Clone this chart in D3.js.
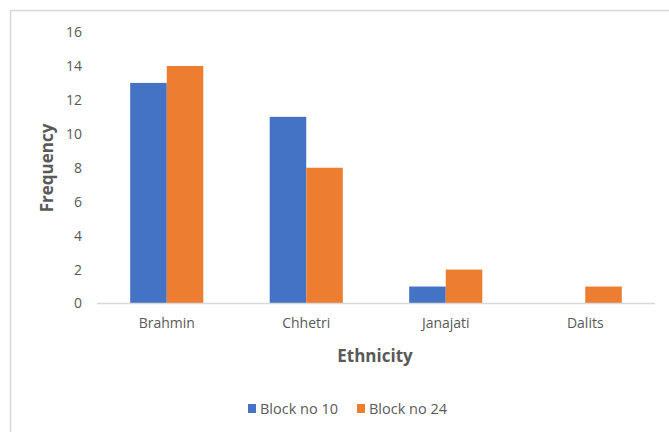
<!DOCTYPE html>
<html><head><meta charset="utf-8">
<script src="https://cdn.jsdelivr.net/npm/d3@7"></script>
<style>body{margin:0;background:#fff}svg{display:block}text{font-family:"Open Sans","Liberation Sans",sans-serif}</style>
</head><body><svg id="c" width="669" height="432"></svg>
<script>
const categories = ["Brahmin","Chhetri","Janajati","Dalits"];
const seriesNames = ["Block no 10","Block no 24"];
const block10 = [13, 11, 1, 0];
const block24 = [14, 8, 2, 1];
const yTicks = [0,2,4,6,8,10,12,14,16];
const colors = ["#4472C4","#ED7D31"];

const svg = d3.select("#c");
svg.append("rect").attr("x",10.5).attr("y",10.5).attr("width",700).attr("height",500)
  .attr("fill","#fff").attr("stroke","#d9d9d9").attr("stroke-width",1.5);

const m = {left:97, right:655, top:32, bottom:303.5};
const x = d3.scaleBand().domain(categories).range([m.left,m.right]).paddingInner(0.476).paddingOuter(0.238);
const xs = d3.scaleBand().domain(seriesNames).range([0,x.bandwidth()]);
const y = d3.scaleLinear().domain([0,16]).range([m.bottom,m.top]);

const data = categories.map((c,i)=>({c, vals:[block10[i],block24[i]]}));
const g = svg.append("g");
g.selectAll("g.cat").data(data).join("g").attr("transform",d=>`translate(${x(d.c)},0)`)
  .selectAll("rect").data(d=>d.vals.map((v,j)=>({v,j}))).join("rect")
  .attr("x",d=>xs(seriesNames[d.j])).attr("width",xs.bandwidth())
  .attr("y",d=>y(d.v)).attr("height",d=>m.bottom-y(d.v))
  .attr("fill",d=>colors[d.j]);

// baseline
svg.append("line").attr("x1",m.left).attr("x2",m.right).attr("y1",m.bottom).attr("y2",m.bottom)
  .attr("stroke","#d9d9d9").attr("stroke-width",1.5);

const ff = '"Open Sans","Liberation Sans",sans-serif';
// y axis labels
const ya = svg.append("g").attr("transform",`translate(${m.left},0)`)
  .call(d3.axisLeft(y).tickValues(yTicks).tickSize(0).tickPadding(15));
ya.select(".domain").remove();
ya.selectAll("text").attr("fill","#595959").style("font-size","14px").attr("font-family",ff);

// x axis labels
const xa = svg.append("g").attr("transform",`translate(0,${m.bottom})`)
  .call(d3.axisBottom(x).tickSize(0).tickPadding(15));
xa.select(".domain").remove();
xa.selectAll("text").attr("fill","#595959").style("font-size","14px").attr("font-family",ff);

svg.append("text").attr("transform","translate(53,168) rotate(-90)").attr("text-anchor","middle")
  .attr("fill","#595959").style("font-size","17px").style("font-weight","bold").text("Frequency");
svg.append("text").attr("x",375).attr("y",362).attr("text-anchor","middle")
  .attr("fill","#595959").style("font-size","17px").style("font-weight","bold").text("Ethnicity");

// legend
const lx = [248, 357];
seriesNames.forEach((s,i)=>{
  svg.append("rect").attr("x",lx[i]).attr("y",404).attr("width",8).attr("height",9).attr("fill",colors[i]);
  svg.append("text").attr("x",lx[i]+12).attr("y",414).attr("fill","#595959").style("font-size","14.5px").text(s);
});
</script></body></html>
